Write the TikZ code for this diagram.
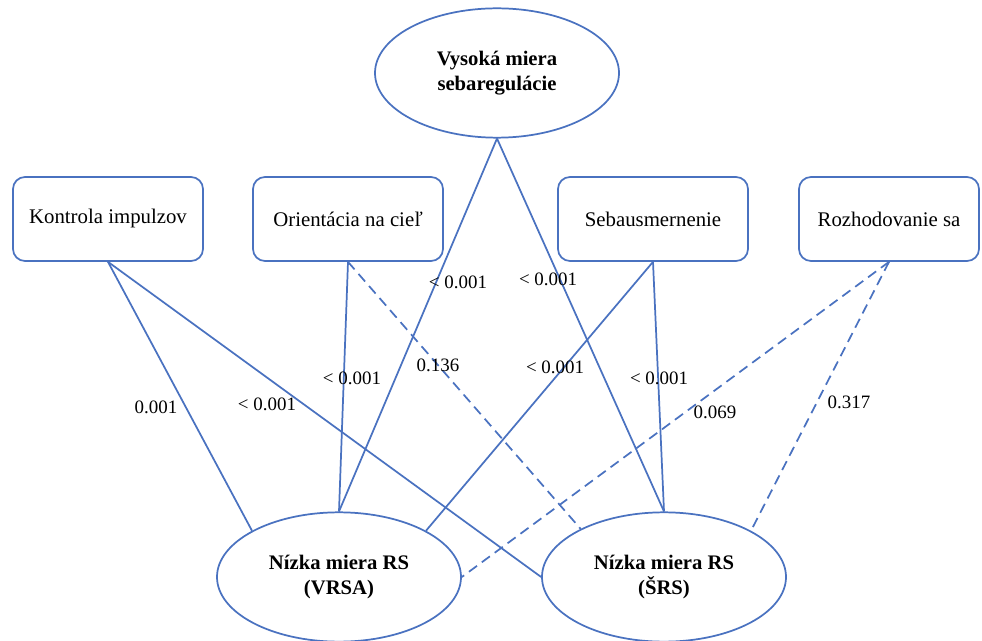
\documentclass[tikz,border=0pt]{standalone}
\usepackage{fontspec}
\setmainfont{Liberation Serif}
\usetikzlibrary{shapes.geometric}
\definecolor{linkblue}{HTML}{4A72C0}

\begin{document}
\begin{tikzpicture}[
  x=0.75pt, y=-0.75pt,
  line width=1.3pt,
  line cap=butt, line join=miter,
  factorbox/.style={draw=linkblue, fill=white, rounded corners=9pt,
    minimum width=142.5pt, minimum height=63pt, inner sep=0pt,
    font=\fontsize{15.6pt}{18pt}\selectfont},
  levelell/.style={ellipse, draw=linkblue, fill=white,
    minimum width=183pt, minimum height=97pt, inner sep=0pt, align=center,
    font=\bfseries\fontsize{15.5pt}{19pt}\selectfont},
  link/.style={draw=linkblue},
  weaklink/.style={draw=linkblue, dash pattern=on 7.5pt off 4.5pt},
  pval/.style={inner sep=0pt, font=\fontsize{14.2pt}{14.2pt}\selectfont}
]
  \useasboundingbox (0,0) rectangle (982,641);
  % ---- 椭圆：自我调节水平 ----
  \node[levelell] (high) at (497, 73) {Vysoká miera\\sebaregulácie};
  \node[levelell] (vrsa) at (339,577) {Nízka miera RS\\(VRSA)};
  \node[levelell] (srs)  at (664,577) {Nízka miera RS\\(ŠRS)};
  % ---- 圆角矩形：四个维度 ----
  \node[factorbox] (impulz) at (108,219) {Kontrola impulzov};
  \node[factorbox] (ciel)   at (348,219) {Orientácia na cieľ};
  \node[factorbox] (smer)   at (653,219) {Sebausmernenie};
  \node[factorbox, minimum width=135pt] (rozhod) at (889,219) {Rozhodovanie sa};
  % ---- 实线：显著关系 ----
  \draw[link] (impulz.south) -- (vrsa.152);
  \draw[link] (impulz.south) -- (srs.west);
  \draw[link] (ciel.south) -- (vrsa.north);
  \draw[link] (high.south) -- (vrsa.north);
  \draw[link] (high.south) -- (srs.north);
  \draw[link] (smer.south) -- (vrsa.28);
  \draw[link] (smer.south) -- (srs.north);
  % ---- 虚线：不显著关系 ----
  \draw[weaklink] (ciel.south) -- (srs.150);
  \draw[weaklink] (rozhod.south) -- (vrsa.east);
  \draw[weaklink] (rozhod.south) -- (srs.28);
  % ---- p 值标签 ----
  \node[pval] (p1)  at (156,407) {0.001};
  \node[pval] (p2)  at (267,404) {< 0.001};
  \node[pval] (p3)  at (352,378) {< 0.001};
  \node[pval] (p4)  at (438,365) {0.136};
  \node[pval] (p5)  at (458,282) {< 0.001};
  \node[pval] (p6)  at (548,279) {< 0.001};
  \node[pval] (p7)  at (555,367) {< 0.001};
  \node[pval] (p8)  at (659,378) {< 0.001};
  \node[pval] (p9)  at (715,412) {0.069};
  \node[pval] (p10) at (849,402) {0.317};
\end{tikzpicture}
\end{document}
